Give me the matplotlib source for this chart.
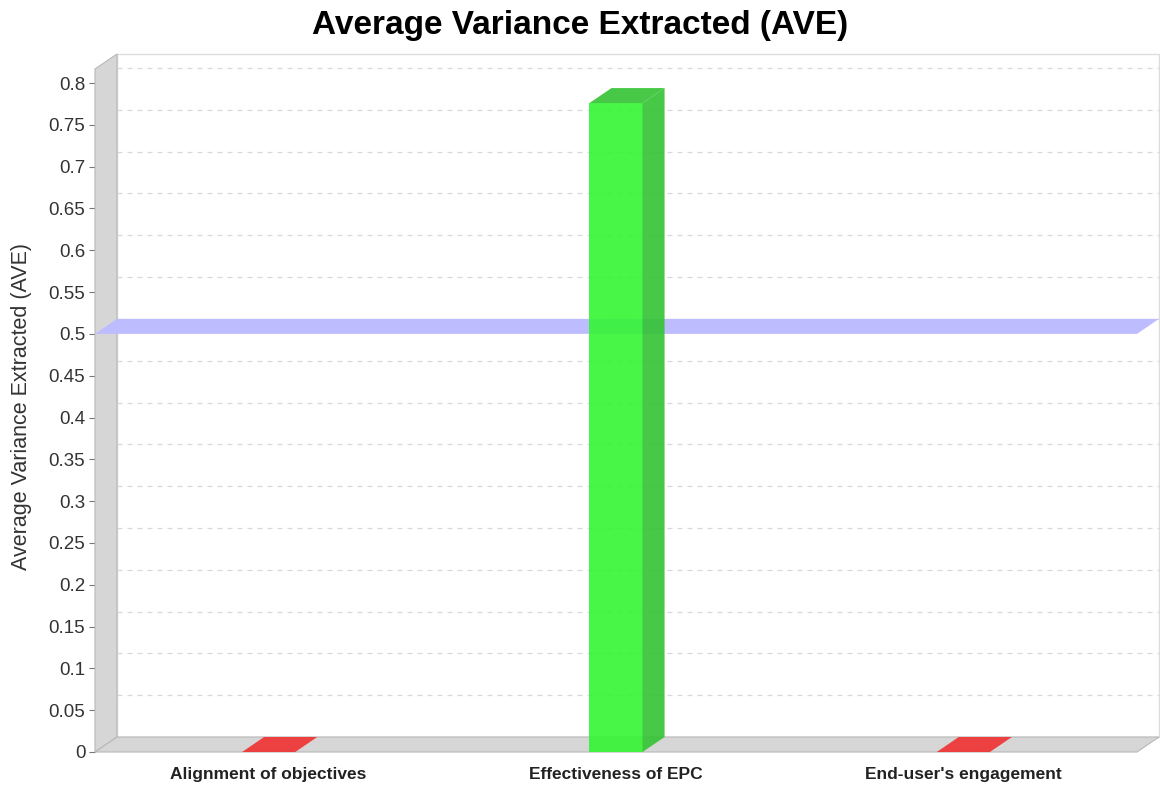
import numpy as np
import matplotlib
matplotlib.use("Agg")
import matplotlib.pyplot as plt
from matplotlib.patches import Polygon

# ---- data ----
categories = ["Alignment of objectives", "Effectiveness of EPC", "End-user's engagement"]
ave_values = [0.0, 0.776, 0.0]
threshold = 0.5
y_ticks = [0, 0.05, 0.1, 0.15, 0.2, 0.25, 0.3, 0.35, 0.4, 0.45, 0.5,
           0.55, 0.6, 0.65, 0.7, 0.75, 0.8]
title = "Average Variance Extracted (AVE)"
y_label = "Average Variance Extracted (AVE)"

# ---- style ----
plt.rcParams['font.family'] = ['Liberation Sans', 'DejaVu Sans']
W, H = 1160, 788
fig = plt.figure(figsize=(W / 100, H / 100), dpi=100)
left_px, right_px, bottom_px, top_px = 95, 1137, 752, 69
ax = fig.add_axes([left_px / W, (H - bottom_px) / H,
                   (right_px - left_px) / W, (bottom_px - top_px) / H])
ymax = 0.8 * (bottom_px - top_px) / (bottom_px - 83)
ax.set_xlim(-0.5, 2.5)
ax.set_ylim(0, ymax)
for s in ax.spines.values():
    s.set_visible(False)
ax.patch.set_visible(False)

# depth offsets in data units
dx_px, dy_px = 22, 15
dxd = dx_px * 3.0 / (right_px - left_px)
dyd = dy_px * ymax / (bottom_px - top_px)

x0, x1 = -0.5, 2.5
wall_col = '#d6d6d6'
edge_col = '#b8b8b8'

def poly(pts, **kw):
    p = Polygon(pts, closed=True, clip_on=False, **kw)
    ax.add_patch(p)
    return p

# back wall
poly([(x0 + dxd, dyd), (x1 + dxd, dyd), (x1 + dxd, ymax + dyd), (x0 + dxd, ymax + dyd)],
     facecolor='white', edgecolor='#dcdcdc', linewidth=1, zorder=1)
# gridlines on back wall
for v in y_ticks[1:]:
    ax.plot([x0 + dxd, x1 + dxd], [v + dyd, v + dyd], color='#d8d8d8',
            linestyle=(0, (4, 4)), linewidth=0.9, clip_on=False, zorder=1.5)
# left wall
poly([(x0, 0), (x0 + dxd, dyd), (x0 + dxd, ymax + dyd), (x0, ymax)],
     facecolor=wall_col, edgecolor=edge_col, linewidth=0.8, zorder=2)
# floor
poly([(x0, 0), (x1, 0), (x1 + dxd, dyd), (x0 + dxd, dyd)],
     facecolor=wall_col, edgecolor=edge_col, linewidth=0.8, zorder=2)

# threshold band (3D marker)
poly([(x0, threshold), (x1, threshold), (x1 + dxd, threshold + dyd), (x0 + dxd, threshold + dyd)],
     facecolor='#bcbcff', edgecolor='none', zorder=3)

# bars
w = 0.153
for i, v in enumerate(ave_values):
    if v >= threshold:
        front, side, top = '#33f533', '#33c333', '#33c333'
    else:
        front, side, top = '#f03030', '#d02828', '#f03030'
    xl, xr = i - w / 2, i + w / 2
    alpha = 0.9
    if v > 0:
        poly([(xl, 0), (xr, 0), (xr, v), (xl, v)], facecolor=front, edgecolor='none',
             alpha=alpha, zorder=4)
        poly([(xr, 0), (xr + dxd, dyd), (xr + dxd, v + dyd), (xr, v)], facecolor=side,
             edgecolor='none', alpha=alpha, zorder=4)
    poly([(xl, v), (xr, v), (xr + dxd, v + dyd), (xl + dxd, v + dyd)], facecolor=top,
         edgecolor='none', alpha=alpha, zorder=4)

# axes ticks
ax.set_yticks(y_ticks)
ax.set_yticklabels([f"{t:g}" for t in y_ticks])
ax.tick_params(axis='y', length=4, width=0.8, color='#777777', pad=3,
               labelsize=13.5, labelcolor='#333333')
ax.set_xticks(range(len(categories)))
ax.set_xticklabels(categories)
ax.tick_params(axis='x', length=0, pad=11, labelsize=12.5, labelcolor='#222222')
for t in ax.get_xticklabels():
    t.set_fontweight('bold')

ax.set_ylabel(y_label, fontsize=15.5, color='#333333')
ax.yaxis.set_label_coords((32 - left_px) / (right_px - left_px),
                          (bottom_px - 406) / (bottom_px - top_px))
fig.text(580 / W, 1 - 34 / H, title, ha='center', va='baseline', fontsize=24,
         fontweight='bold', color='black')

fig.savefig("out.png", dpi=100)
